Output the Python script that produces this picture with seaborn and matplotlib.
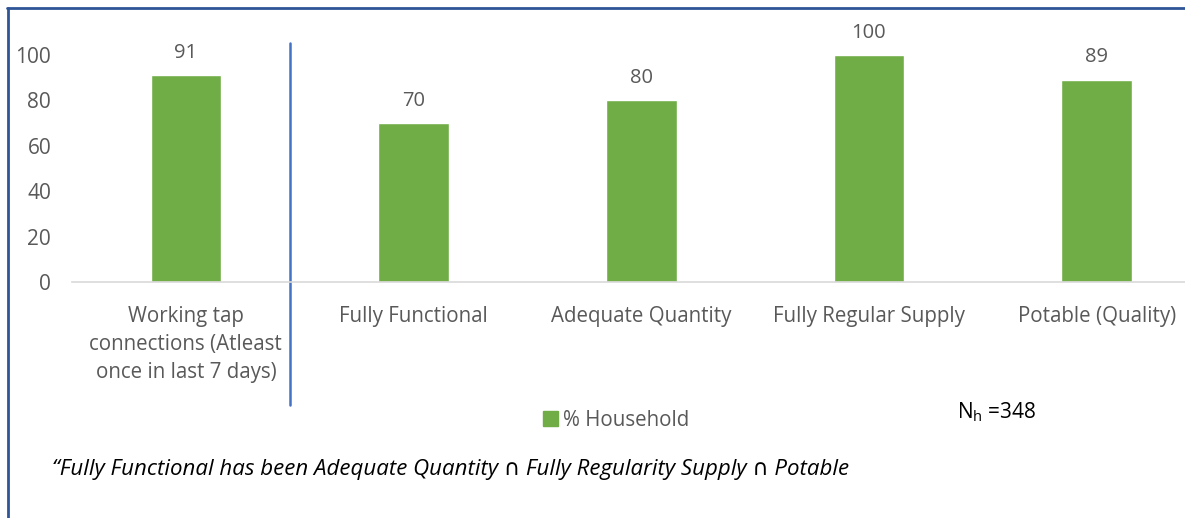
import matplotlib
matplotlib.use("Agg")
import matplotlib.pyplot as plt
import matplotlib.patches as mpatches
import matplotlib.lines as mlines
import seaborn as sns
import pandas as pd

categories = ["Working tap\nconnections (Atleast\nonce in last 7 days)",
              "Fully Functional", "Adequate Quantity",
              "Fully Regular Supply", "Potable (Quality)"]
values = [91, 70, 80, 100, 89]
yticks = [0, 20, 40, 60, 80, 100]
series_name = "% Household"
sample_note = "=348"
footnote = "\u201cFully Functional has been Adequate Quantity \u2229 Fully Regularity Supply \u2229 Potable"

sns.set_theme(style="white")
plt.rcParams['font.family'] = ['Open Sans', 'DejaVu Sans']

GREEN = "#70AD47"
GRAY = "#595959"

df = pd.DataFrame({"cat": categories, "val": values})

fig = plt.figure(figsize=(11.85, 5.18), dpi=100)
W, H = 1185, 518
ax_left, ax_right = 72, 1185
ax_top, ax_bot = 30, 282
ax = fig.add_axes([ax_left / W, 1 - ax_bot / H, (ax_right - ax_left) / W, (ax_bot - ax_top) / H])

sns.barplot(data=df, x="cat", y="val", color=GREEN, width=0.31, ax=ax, saturation=1)

step = 227.7
xmax = (ax_right - ax_left) / step - 0.5
ax.set_xlim(-0.5, xmax)
ymax = (ax_bot - ax_top) / 2.27
ax.set_ylim(0, ymax)

for i, v in enumerate(values):
    ax.text(i, v + 5.5, f"{v}", ha="center", va="bottom", fontsize=14.5, color=GRAY)

ax.set_yticks(yticks)
ax.set_yticklabels([str(t) for t in yticks], fontsize=15, color=GRAY)
ax.tick_params(axis="y", length=0, pad=15)
ax.tick_params(axis="x", length=0, pad=17, labelsize=14.8, labelcolor=GRAY)
for lbl in ax.get_xticklabels():
    lbl.set_linespacing(1.45)
ax.set_xlabel("")
ax.set_ylabel("")
for s in ["top", "right", "left"]:
    ax.spines[s].set_visible(False)
ax.spines["bottom"].set_color("#D9D9D9")
ax.spines["bottom"].set_linewidth(1.2)

# separator line between first category and the rest
sep_x = (290 - ax_left) / step - 0.5
y_top_frac = (ax_bot - 43) / (ax_bot - ax_top)
y_bot_frac = (ax_bot - 405) / (ax_bot - ax_top)
sep = mlines.Line2D([sep_x, sep_x], [y_bot_frac, y_top_frac],
                    transform=ax.get_xaxis_transform(), color="#4472C4",
                    linewidth=1.8, clip_on=False)
ax.add_line(sep)

# legend
handle = mpatches.Patch(color=GREEN, label=series_name)
fig.legend(handles=[handle], loc="center", bbox_to_anchor=(616 / W, 1 - 420 / H),
           frameon=False, fontsize=14.8, handlelength=0.7, handleheight=0.7,
           handletextpad=0.25, labelcolor=GRAY)

fig.text(957 / W, 1 - 412 / H, r"N$_\mathregular{h}$ " + sample_note, fontsize=15,
         color="black", ha="left", va="center")
fig.text(52 / W, 1 - 469 / H, footnote, fontsize=16, style="italic",
         color="black", ha="left", va="center")

# outer frame (top and left edges)
fig.add_artist(mlines.Line2D([7 / W, 1.0], [1 - 8 / H, 1 - 8 / H],
                             transform=fig.transFigure, color="#2F5597", linewidth=2))
fig.add_artist(mlines.Line2D([8 / W, 8 / W], [0, 1 - 8 / H],
                             transform=fig.transFigure, color="#2F5597", linewidth=2))

fig.savefig("out.png", dpi=100)
